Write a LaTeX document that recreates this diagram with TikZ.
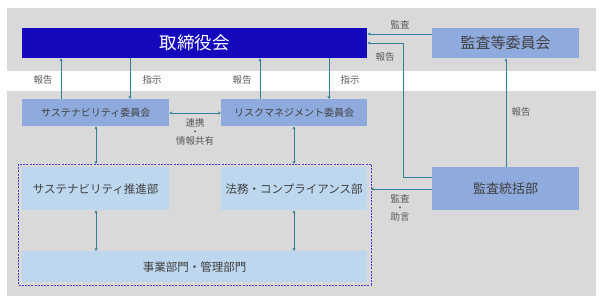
\documentclass[tikz,border=0pt]{standalone}
\usepackage{fontspec}
\setmainfont{Noto Sans CJK JP}
\usetikzlibrary{arrows.meta}
\definecolor{band}{HTML}{D9D9D9}
\definecolor{boardc}{HTML}{1409BD}
\definecolor{midblue}{HTML}{8FAADC}
\definecolor{paleblue}{HTML}{BDD7EE}
\definecolor{arr}{HTML}{31809A}
\definecolor{txt}{HTML}{404040}
\definecolor{lbl}{HTML}{595959}
\definecolor{dashcol}{HTML}{4A3AE6}
\tikzset{
  box/.style={draw=none, inner sep=0pt, anchor=north west, text=txt},
  lab/.style={text=lbl, font=\fontsize{9.5}{9}\selectfont, inner sep=0pt},
  conn/.style={draw=arr, line width=0.9pt, -{Stealth[length=3pt,width=3pt]}},
  conn2/.style={draw=arr, line width=0.9pt, {Stealth[length=3pt,width=3pt]}-{Stealth[length=3pt,width=3pt]}},
}
\begin{document}
\begin{tikzpicture}[x=1pt,y=-1pt]
\useasboundingbox (0,0) rectangle (603,303);
\fill[band] (7,8) rectangle (596,71);
\fill[band] (7,91) rectangle (596,296);

\node[box, fill=boardc, minimum width=345pt, minimum height=30pt, text=white, font=\fontsize{17.5}{20}\selectfont] (board) at (22,28) {取締役会};
\node[box, fill=midblue, minimum width=147pt, minimum height=30pt, font=\fontsize{15}{17}\selectfont] (audcom) at (432,28) {監査等委員会};
\node[box, fill=midblue, minimum width=147pt, minimum height=27pt, font=\fontsize{10}{12}\selectfont] (susc) at (22,99) {サステナビリティ委員会};
\node[box, fill=midblue, minimum width=146pt, minimum height=27pt, font=\fontsize{10}{12}\selectfont] (riskc) at (221,99) {リスクマネジメント委員会};

\draw[draw=dashcol, dash pattern=on 2pt off 1.2pt, line width=1pt] (18,164) rectangle (371,285);
\coordinate (dR) at (371,189);
\coordinate (dT1) at (96,164);
\coordinate (dT2) at (294,164);

\node[box, fill=paleblue, minimum width=147pt, minimum height=43pt, font=\fontsize{11.5}{13}\selectfont] (susp) at (22,167) {サステナビリティ推進部};
\node[box, fill=paleblue, minimum width=146pt, minimum height=43pt, font=\fontsize{11.5}{13}\selectfont] (legal) at (221,167) {法務・コンプライアンス部};
\node[box, fill=paleblue, minimum width=345pt, minimum height=31pt, font=\fontsize{11.5}{13}\selectfont] (biz) at (22,251) {事業部門・管理部門};
\node[box, fill=midblue, minimum width=147pt, minimum height=43pt, font=\fontsize{13}{15}\selectfont] (audit) at (432,167) {監査統括部};

% committee <-> board
\draw[conn] (susc.north -| 61,0) -- (board.south -| 61,0);
\draw[conn] (board.south -| 130,0) -- (susc.north -| 130,0);
\draw[conn] (riskc.north -| 260,0) -- (board.south -| 260,0);
\draw[conn] (board.south -| 329,0) -- (riskc.north -| 329,0);
\node[lab] (l1) at (43,80) {報告};
\node[lab] (l2) at (152,80) {指示};
\node[lab] (l3) at (242,80) {報告};
\node[lab] (l4) at (350,80) {指示};

% link between committees
\draw[conn2] (susc.east |- 0,113) -- (riskc.west |- 0,113);
\node[lab, align=center] (l5) at (195,131.5) {連携\\・\\情報共有};

% vertical double arrows
\draw[conn2] (susc.south -| 96,0) -- (dT1);
\draw[conn2] (riskc.south -| 294,0) -- (dT2);
\draw[conn2] (susp.south -| 96,0) -- (biz.north -| 96,0);
\draw[conn2] (legal.south -| 294,0) -- (biz.north -| 294,0);

% audit committee
\draw[conn] (audcom.west |- 0,34) -- (board.east |- 0,34);
\node[lab] (l6) at (400,25) {監査};
\draw[conn] (audit.west |- 0,177) -- (403,177) -- (403,43) -- (board.east |- 0,43);
\node[lab] (l7) at (385,57) {報告};
\draw[conn] (audit.north -| 506,0) -- (audcom.south -| 506,0);
\node[lab] (l8) at (521,112) {報告};
\draw[conn] (audit.west |- dR) -- (dR);
\node[lab, align=center] (l9) at (400,207.5) {監査\\・\\助言};
\end{tikzpicture}
\end{document}
